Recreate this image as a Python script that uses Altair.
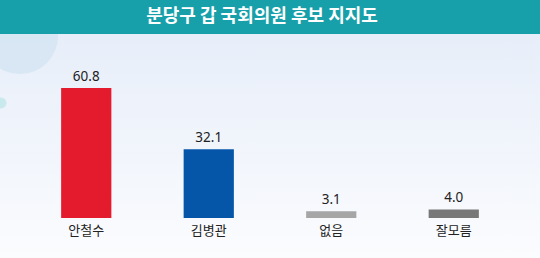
import altair as alt
import pandas as pd

categories = ["안철수", "김병관", "없음", "잘모름"]
values = [60.8, 32.1, 3.1, 4.0]
colors = ["#e31b2c", "#0556a8", "#a6a6a6", "#787878"]
title_text = "분당구 갑 국회의원 후보 지지도"

df = pd.DataFrame({
    "cand": categories,
    "value": values,
    "color": colors,
    "label": [f"{v:.1f}" for v in values],
})
one = pd.DataFrame({"a": [0]})

W, H = 490, 184
PL, PR, PT, PB = 25, 25, 34, 40
FONT = "Noto Sans CJK KR"

x = alt.X("cand:N", sort=categories,
          scale=alt.Scale(paddingInner=0.59, paddingOuter=0.295),
          axis=alt.Axis(title=None, labelAngle=0, domain=False, ticks=False,
                        labelFontSize=13, labelColor="#222222", labelPadding=6,
                        labelFont=FONT, grid=False, zindex=1))
y = alt.Y("value:Q", scale=alt.Scale(domain=[0, 86]), axis=None)

bg = alt.Chart(one).mark_rect(
    color=alt.LinearGradient(
        gradient="linear",
        stops=[alt.GradientStop(offset=0, color="#e7eef9"),
               alt.GradientStop(offset=1, color="#fbfcfe")],
        x1=0, y1=0, x2=0, y2=1)
).encode(x=alt.value(-PL), x2=alt.value(W + PR), y=alt.value(0), y2=alt.value(H + PB))

circle = alt.Chart(one).mark_point(filled=True, shape="circle", color="#d3e5f1", opacity=0.8).encode(
    x=alt.value(-5), y=alt.value(2), size=alt.value(5800))

dot = alt.Chart(one).mark_point(filled=True, shape="circle", color="#bfe6ea", opacity=0.8).encode(
    x=alt.value(-24), y=alt.value(69), size=alt.value(120))

banner = alt.Chart(one).mark_rect(color="#18a0aa").encode(
    x=alt.value(-PL), x2=alt.value(W + PR), y=alt.value(-PT), y2=alt.value(0))

title = alt.Chart(one).mark_text(text=title_text, font=FONT, fontSize=18, fontWeight="bold",
                                 color="white").encode(x=alt.value(W / 2 - 8), y=alt.value(-17))

bars = alt.Chart(df).mark_bar().encode(x=x, y=y, color=alt.Color("color:N", scale=None))

labels = alt.Chart(df).mark_text(font="Noto Sans", fontSize=13.5, color="#222222", baseline="alphabetic", dy=-7).encode(
    x=x, y=y, text="label:N")

chart = alt.layer(bg, circle, dot, banner, title, bars, labels).properties(
    width=W, height=H,
    autosize=alt.AutoSizeParams(type="none"),
    padding={"left": PL, "right": PR, "top": PT, "bottom": PB},
).configure_view(stroke=None).configure(background="#ffffff")

chart.save("out.html", embed_options={"renderer": "svg", "actions": False})
